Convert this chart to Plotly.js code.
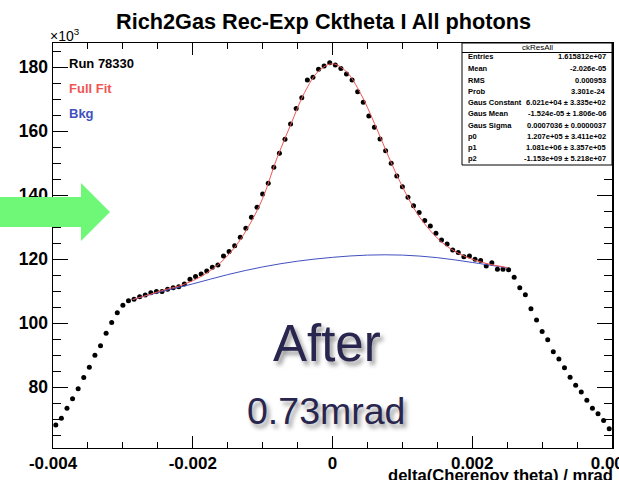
<!DOCTYPE html>
<html><head><meta charset="utf-8">
<script src="https://cdn.plot.ly/plotly-3.0.1.min.js"></script>
<style>html,body{margin:0;padding:0;background:#fff}#chart{width:619px;height:480px}</style>
</head><body><div id="chart"></div>
<script>
// ---- data (values in units of 10^3 entries) ----
const xMin = -0.004, xMax = 0.004, nBins = 100;
const counts = [
 68.2, 70.3, 73.4, 76.4, 79.5, 83.0, 86.25, 90.0, 93.0, 96.9,
 100.2, 103.3, 105.6, 107.0, 107.5, 108.3, 108.8, 109.5, 109.9, 109.9,
 110.6, 111.1, 111.4, 112.3, 113.75, 114.6, 115.4, 116.3, 117.5, 118.2,
 121.0, 122.4, 124.25, 126.9, 129.7, 133.1, 136.25, 140.4, 143.75, 148.75,
 153.1, 157.5, 162.3, 167.1, 170.5, 176.0, 176.9, 179.4, 180.4, 181.4,
 180.7, 179.6, 177.9, 176.0, 172.4, 169.1, 164.8, 161.25, 157.6, 153.9,
 150.0, 146.0, 142.7, 139.4, 136.7, 134.6, 132.1, 130.4, 128.1, 126.0,
 124.8, 122.9, 122.1, 120.8, 121.0, 120.0, 119.6, 117.9, 118.9, 116.9,
 116.9, 116.7, 114.4, 111.1, 108.9, 104.5, 101.0, 97.4, 94.8, 91.1,
 88.8, 86.1, 83.1, 80.6, 78.5, 75.9, 73.4, 71.7, 69.6, 67.0
];
const fitX = [-0.00286, -0.0026, -0.0024, -0.0022, -0.002, -0.0018, -0.0016, -0.0014, -0.0012, -0.001,
  -0.0008, -0.0006, -0.0004, -0.0002, 0, 0.0002, 0.0004, 0.0006, 0.0008, 0.001,
  0.0012, 0.0014, 0.0016, 0.0018, 0.002, 0.0022, 0.0025];
const fitFull = [107.4, 109.1, 110.5, 111.6, 113.3, 115.7, 119.0, 123.7, 130.3, 139.0,
  151.3, 162.0, 172.1, 178.8, 181.1, 178.6, 171.9, 162.5, 152.2, 142.7,
  134.7, 128.9, 124.7, 121.9, 120.0, 118.7, 117.4];
const bkgX = [-0.00286, -0.0025, -0.002, -0.0015, -0.001, -0.0005, 0, 0.0005, 0.001, 0.0015, 0.002, 0.0025];
const bkgFit = [107.4, 109.6, 112.3, 115.2, 117.6, 119.4, 120.6, 121.3, 121.3, 120.5, 119.0, 117.3];

const xTickVals = [-0.004, -0.002, 0, 0.002, 0.004];
const xTickText = ['-0.004', '-0.002', '0', '0.002', '0.004'];
const yTickVals = [80, 100, 120, 140, 160, 180];
const yTickText = ['80', '100', '120', '140', '160', '180'];

const statsTitle = 'ckResAll';
const statNames = ['Entries', 'Mean', 'RMS', 'Prob', 'Gaus Constant', 'Gaus Mean', 'Gaus Sigma', 'p0', 'p1', 'p2'];
const statValues = ['1.615812e+07', '-2.026e-05', '0.000953', '3.301e-24',
  '6.021e+04 ± 3.335e+02', '-1.524e-05 ± 1.806e-06', '0.0007036 ± 0.0000037',
  '1.207e+05 ± 3.411e+02', '1.081e+06 ± 3.357e+05', '-1.153e+09 ± 5.218e+07'];
const legendLabels = ['Run 78330', 'Full Fit', 'Bkg'];
const chartTitle = 'Rich2Gas Rec-Exp Cktheta I All photons';
const xTitle = 'delta(Cherenoy theta) / mrad';

// ---- layout geometry ----
const FW = 619, FH = 480;
const M = {l: 53, r: 7, t: 43, b: 32};
const PW = FW - M.l - M.r, PH = FH - M.t - M.b;
const px = p => (p - M.l) / PW;
const py = p => (FH - M.b - p) / PH;

const binWidth = (xMax - xMin) / nBins;
const binCenters = counts.map((_, i) => xMin + (i + 0.5) * binWidth);

const FONT = 'Liberation Sans, Arial, Helvetica, sans-serif';
const RED = '#ef5555', BLUE = '#4150c0';

const traces = [
  {x: binCenters, y: counts, type: 'scatter', mode: 'markers',
   marker: {color: '#000', size: 5}, hoverinfo: 'skip', showlegend: false},
  {x: bkgX, y: bkgFit, type: 'scatter', mode: 'lines',
   line: {color: BLUE, width: 1, shape: 'spline'}, showlegend: false},
  {x: fitX, y: fitFull, type: 'scatter', mode: 'lines',
   line: {color: RED, width: 1, shape: 'spline'}, showlegend: false}
];

const annotations = [];
const ann = (text, x, y, opt) => annotations.push(Object.assign({
  text, x: px(x), y: py(y), xref: 'paper', yref: 'paper', showarrow: false,
  xanchor: 'left', yanchor: 'middle', font: {family: FONT, size: 12, color: '#000'}
}, opt || {}));

ann(chartTitle, 323, 21, {xanchor: 'center', font: {family: FONT, size: 21.7, color: '#000', weight: 'bold'}});
ann('×10<sup>3</sup>', 48, 35, {font: {family: FONT, size: 14, color: '#000'}});
const legColors = ['#000', RED, BLUE];
const legY = [63, 88.5, 114];
legendLabels.forEach((t, i) => ann(t, 67, legY[i], {font: {family: FONT, size: 13, color: legColors[i], weight: 'bold'}}));
ann(xTitle, 615, 475, {xanchor: 'right', font: {family: FONT, size: 16.6, color: '#000', weight: 'bold'}});
ann('After', 327, 344, {xanchor: 'center', font: {family: FONT, size: 51, color: '#28264f', shadow: '3px 4px 4px rgba(70,70,70,0.55)'}});
ann('0.73mrad', 326, 411, {xanchor: 'center', font: {family: FONT, size: 37.5, color: '#28264f', shadow: '3px 4px 4px rgba(70,70,70,0.55)'}});

// stats box text
ann(statsTitle, 537, 47.5, {xanchor: 'center', font: {family: FONT, size: 8, color: '#000'}});
const rowY = [57, 68.5, 80, 91.5, 102.5, 114, 125, 136.5, 147, 158];
statNames.forEach((t, i) => {
  ann(t, 466, rowY[i], {font: {family: FONT, size: 7.5, color: '#000', weight: 'bold'}});
  ann(statValues[i], 608, rowY[i], {xanchor: 'right', font: {family: FONT, size: 7.5, color: '#000', weight: 'bold'}});
});

const shapes = [
  {type: 'rect', xref: 'paper', yref: 'paper', x0: px(462), x1: px(612), y0: py(165), y1: py(43),
   line: {color: '#000', width: 1}, fillcolor: '#fff', layer: 'above'},
  {type: 'line', xref: 'paper', yref: 'paper', x0: px(462), x1: px(612), y0: py(52.5), y1: py(52.5),
   line: {color: '#000', width: 1}, layer: 'above'},
  {type: 'path', xref: 'paper', yref: 'paper', layer: 'above',
   path: `M ${px(0)},${py(197)} L ${px(81)},${py(197)} L ${px(81)},${py(183)} L ${px(110)},${py(212)} L ${px(81)},${py(241)} L ${px(81)},${py(227)} L ${px(0)},${py(227)} Z`,
   fillcolor: '#6ff878', line: {width: 0}}
];

const layout = {
  width: FW, height: FH, margin: M, paper_bgcolor: '#fff', plot_bgcolor: '#fff',
  showlegend: false, font: {family: FONT, color: '#000'},
  xaxis: {range: [xMin, xMax], tickvals: xTickVals, ticktext: xTickText, ticks: 'inside', ticklen: 12,
    tickcolor: '#000', tickwidth: 1, showline: true, linecolor: '#000', linewidth: 1, mirror: 'allticks',
    showgrid: false, zeroline: false, ticklabeloverflow: 'allow',
    tickfont: {family: FONT, size: 17, weight: 'bold', color: '#000'},
    minor: {dtick: 0.0005, tick0: 0, ticks: 'inside', ticklen: 6, tickcolor: '#000', showgrid: false}},
  yaxis: {range: [61, 187.6], tickvals: yTickVals, ticktext: yTickText, ticks: 'inside', ticklen: 15,
    tickcolor: '#000', tickwidth: 1, showline: true, linecolor: '#000', linewidth: 1.5, mirror: 'allticks',
    showgrid: false, zeroline: false, tickfont: {family: FONT, size: 17.5, weight: 'bold', color: '#000'},
    minor: {dtick: 5, tick0: 0, ticks: 'inside', ticklen: 8, tickcolor: '#000', showgrid: false}},
  annotations, shapes
};

Plotly.newPlot('chart', traces, layout, {staticPlot: true, displayModeBar: false});
</script>
</body></html>
